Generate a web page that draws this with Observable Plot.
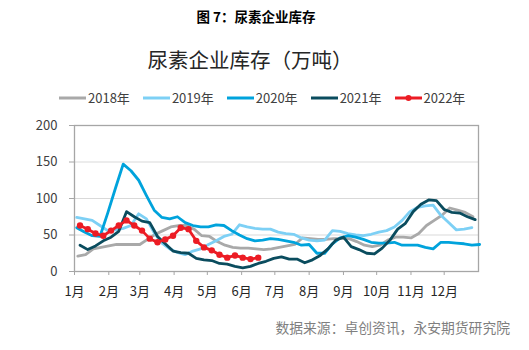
<!DOCTYPE html>
<html>
<head>
<meta charset="utf-8">
<script src="https://cdn.jsdelivr.net/npm/d3@7"></script>
<script src="https://cdn.jsdelivr.net/npm/@observablehq/plot@0.6"></script>
<style>
  html, body { margin: 0; padding: 0; background: #fff; }
  body { width: 529px; height: 350px; position: relative; overflow: hidden;
         font-family: "Noto Sans CJK SC", "Noto Sans", sans-serif; }
  .abs { position: absolute; white-space: nowrap; }
  #fig { top: 6px; left: 0; width: 512px; text-align: center; font-size: 13.5px; font-weight: bold; color: #000; }
  #ttl { top: 44px; left: 0; width: 500px; text-align: center; font-size: 20.5px; color: #262626; }
  #legend { top: 88px; left: 59px; display: flex; gap: 13px; font-size: 13px; color: #404040; }
  .item { display: flex; align-items: center; gap: 2px; }
  #src { top: 317px; right: 19px; font-size: 13.8px; color: #7f7f7f; }
  #chart { position: absolute; top: 0; left: 0; }
</style>
</head>
<body>
<div id="fig" class="abs">图 7：尿素企业库存</div>
<div id="ttl" class="abs">尿素企业库存（万吨）</div>
<div id="legend" class="abs"></div>
<div id="chart"></div>
<div id="src" class="abs">数据来源：卓创资讯，永安期货研究院</div>
<script>
// Series: years, colors, weekly values (万吨), start day-of-year of the first week
const years = ["2018年", "2019年", "2020年", "2021年", "2022年"];
const colors = ["#a9a9a9", "#7dd0f5", "#00a3dc", "#0a4c5e", "#ec1c24"];
const startDay = [3, 2, 2, 5, 5];

const v2018 = [21, 23, 31, 33, 35, 37, 37, 37, 37, 44, 51, 56, 61, 63, 63, 58, 49, 48, 41, 36,
  33, 32, 32, 31, 30, 31, 33, 35, 37, 46, 45, 44, 44, 45, 45, 45, 41, 36, 34, 36,
  43, 47, 47, 46, 52, 63, 70, 77, 87, 84, 81, 75];
const v2019 = [74, 72, 70, 63, 56, 57, 59, 63, 79, 72, 53, 39, 31, 26, 23, 28, 31, 37, 42, 48,
  51, 64, 61, 59, 58, 58, 54, 52, 51, 46, 43, 42, 43, 56, 55, 52, 50, 49, 51, 54,
  56, 61, 70, 82, 88, 90, 91, 77, 67, 57, 58, 60];
const v2020 = [60, 54, 49, 48, 80, 114, 147, 138, 125, 104, 84, 74, 72, 75, 67, 63, 61, 61, 64, 63,
  56, 50, 45, 42, 43, 45, 44, 42, 40, 36, 37, 25, 25, 38, 46, 49, 47, 44, 40, 39,
  39, 40, 36, 36, 36, 33, 31, 40, 40, 39, 38, 36, 37];
const v2021 = [36, 30, 35, 42, 47, 55, 82, 75, 69, 67, 48, 38, 28, 26, 25, 18, 16, 15, 11, 10,
  7, 5, 7, 11, 14, 18, 20, 17, 17, 12, 16, 22, 31, 43, 47, 34, 30, 25, 24, 32,
  43, 58, 66, 82, 92, 98, 97, 85, 81, 80, 75, 71];
const v2022 = [63, 58, 52, 49, 56, 63, 70, 63, 56, 45, 40, 44, 49, 60, 58, 42, 33, 29, 23, 19,
  22, 19, 17, 19];

const monthStarts = [0, 31, 59, 90, 120, 151, 181, 212, 243, 273, 304, 334];
const monthLabels = ["1月", "2月", "3月", "4月", "5月", "6月", "7月", "8月", "9月", "10月", "11月", "12月"];
const yTicks = [0, 50, 100, 150, 200];
const gridValues = [50, 100, 150];

const seriesValues = [v2018, v2019, v2020, v2021, v2022];
const rows = [];
seriesValues.forEach((vals, s) => {
  vals.forEach((v, i) => rows.push({year: years[s], doy: startDay[s] + 7 * i, value: v}));
});
const rows2022 = rows.filter(d => d.year === "2022年");

const chart = Plot.plot({
  width: 529,
  height: 350,
  marginLeft: 74,
  marginRight: 51,
  marginTop: 125,
  marginBottom: 79,
  style: {fontFamily: '"Noto Sans CJK SC", "Noto Sans", sans-serif', fontSize: "13px", background: "transparent"},
  x: {domain: [0, 365], axis: null, label: null},
  y: {domain: [0, 200], axis: null, label: null},
  color: {domain: years, range: colors},
  marks: [
    Plot.ruleY(gridValues, {stroke: "#d9d9d9", strokeWidth: 1}),
    Plot.frame({stroke: "#a6a6a6", strokeWidth: 1.3}),
    Plot.axisY(yTicks, {anchor: "left", label: null, tickSize: 5, tickPadding: 12, stroke: "#a6a6a6", fill: "#404040", fontSize: 13}),
    Plot.axisX(monthStarts, {anchor: "bottom", label: null, tickSize: 4, tickPadding: 11, stroke: "#a6a6a6", fill: "#262626", fontSize: 13,
      tickFormat: d => monthLabels[monthStarts.indexOf(d)]}),
    Plot.line(rows, {x: "doy", y: "value", z: "year", stroke: "year", strokeWidth: 2.8, strokeLinejoin: "round", strokeLinecap: "round"}),
    Plot.dot(rows2022, {x: "doy", y: "value", r: 3.2, fill: colors[4], stroke: "none"})
  ]
});
document.getElementById("chart").appendChild(chart);

// Legend
const legend = document.getElementById("legend");
years.forEach((y, i) => {
  const item = document.createElement("div");
  item.className = "item";
  const dot = i === 4 ? `<circle cx="13.5" cy="5" r="3" fill="${colors[i]}"/>` : "";
  item.innerHTML = `<svg width="27" height="10"><line x1="0" x2="27" y1="5" y2="5" stroke="${colors[i]}" stroke-width="3"/>${dot}</svg><span>${y}</span>`;
  legend.appendChild(item);
});
</script>
</body>
</html>
